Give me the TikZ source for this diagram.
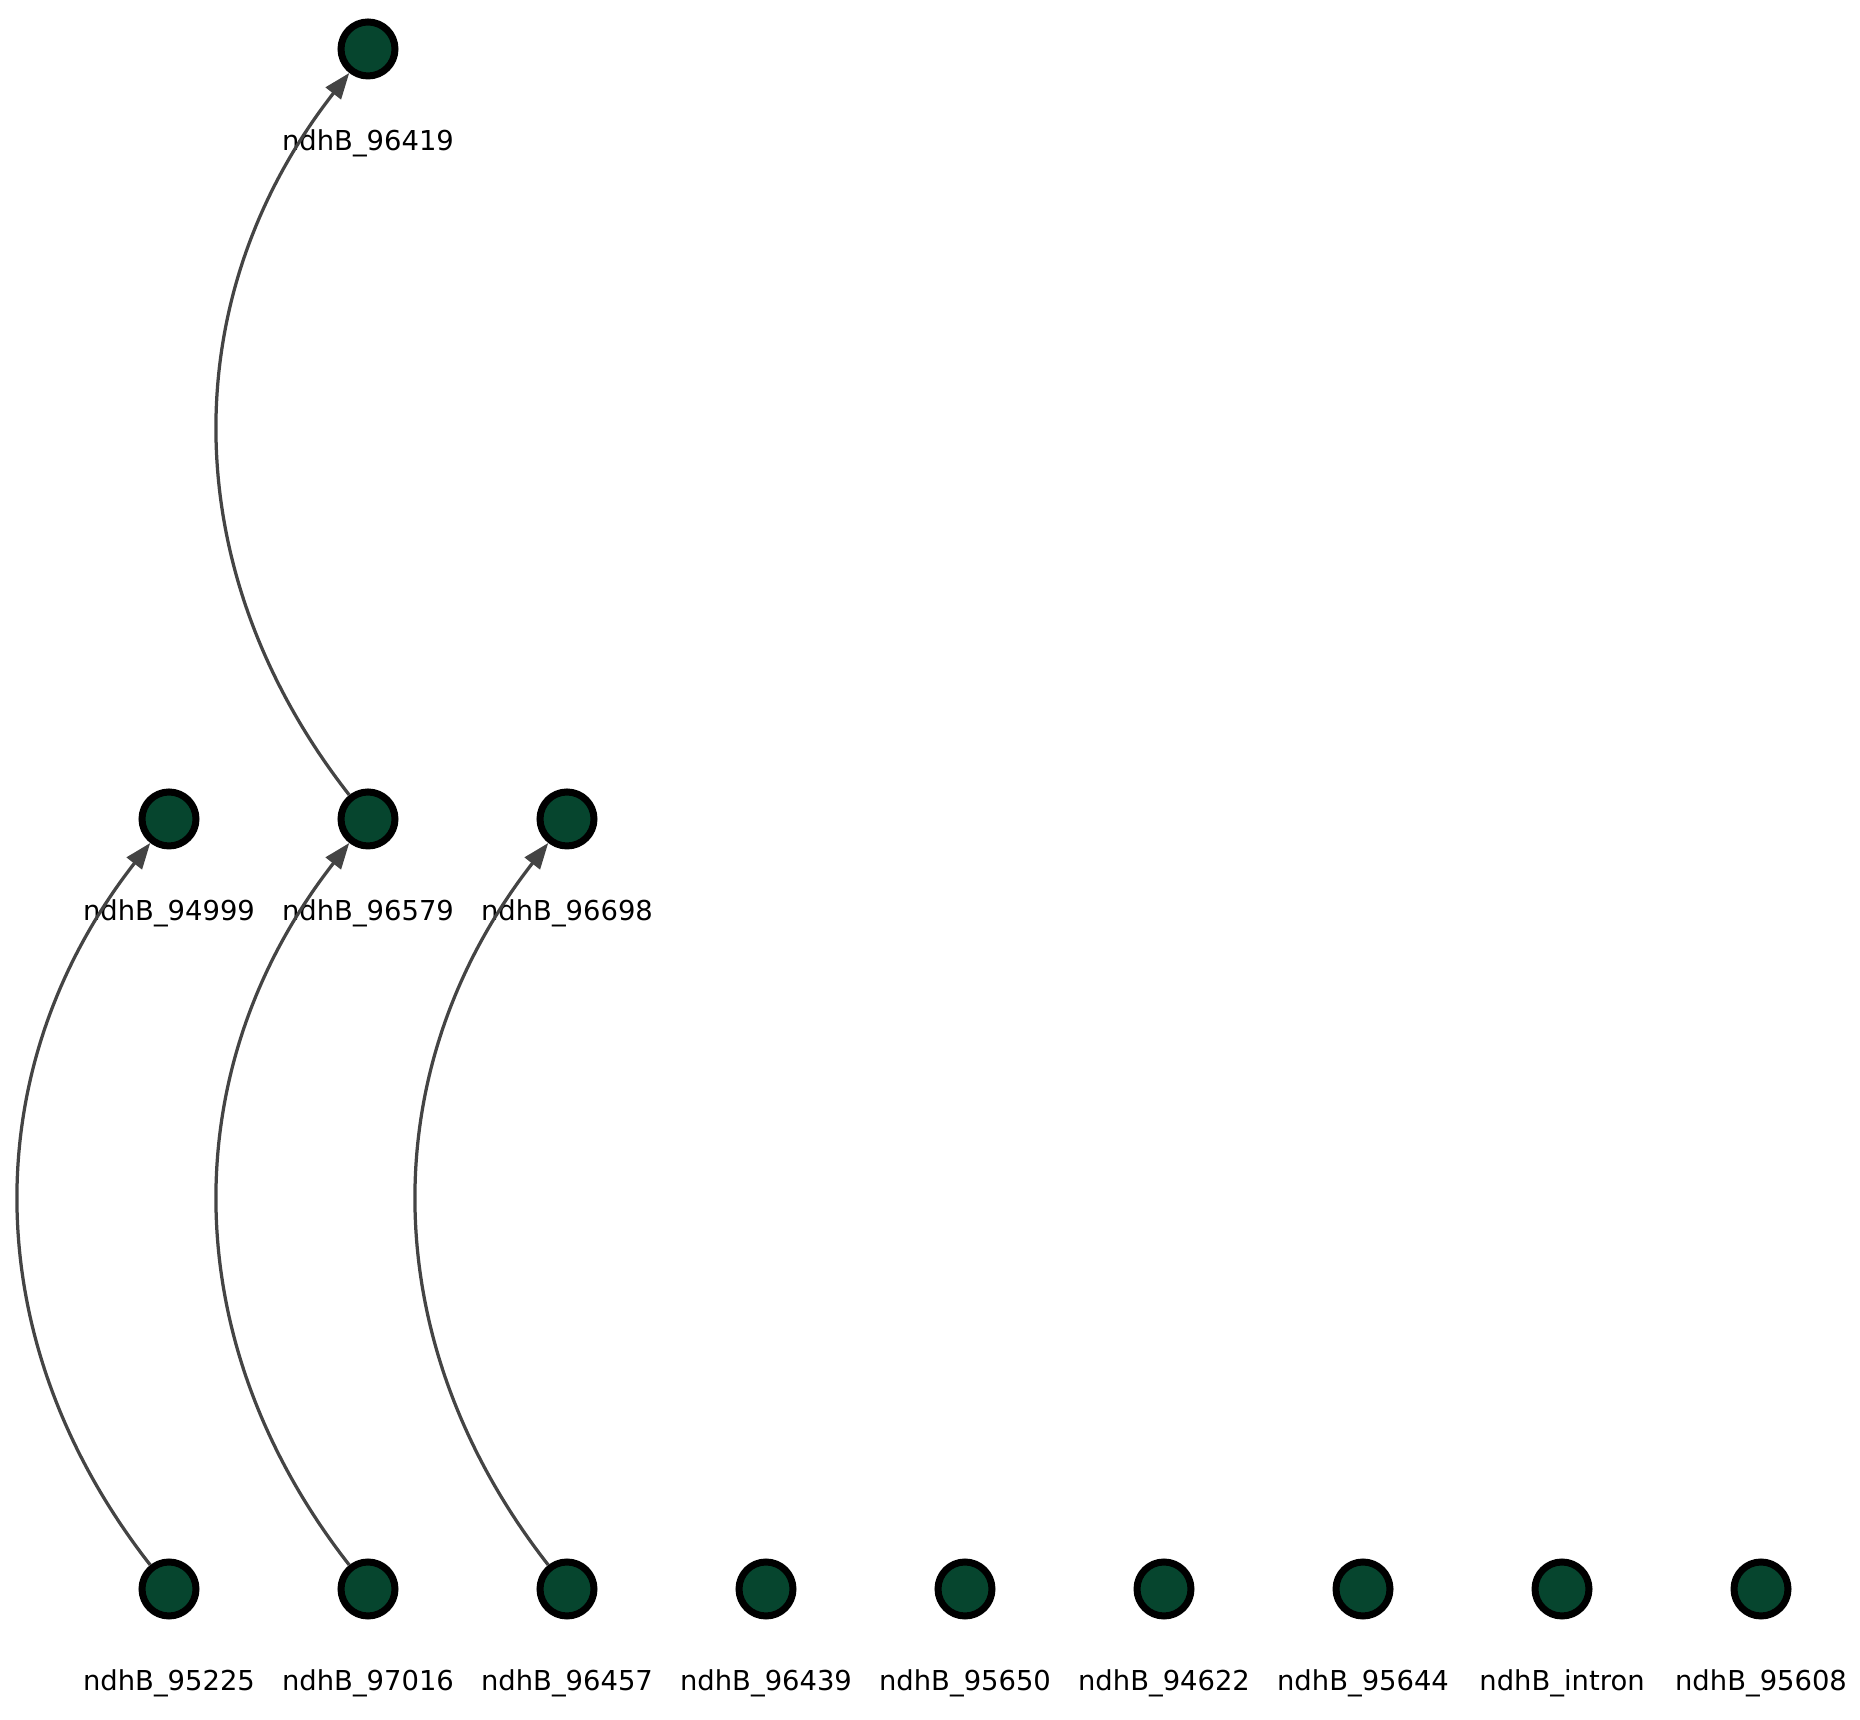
\documentclass[tikz,border=0pt]{standalone}
\usepackage{fontspec}
\setmainfont{DejaVu Sans}
\usetikzlibrary{arrows.meta}
\definecolor{genegreen}{RGB}{6,69,46}
\definecolor{edgegray}{RGB}{68,68,68}

\begin{document}
\begin{tikzpicture}[x=0.02cm, y=0.02cm]
    \tikzstyle{gene}=[circle, fill=genegreen, draw=black, line width=0.14cm, minimum size=1.08cm, inner sep=0pt]
    \tikzstyle{genelabel}=[inner sep=0pt, font=\fontsize{15.6}{18}\selectfont, text=black]
    \tikzstyle{edge}=[edgegray, line width=0.065cm, -{Triangle[length=0.52cm, width=0.38cm]}]

    \useasboundingbox (0,0) rectangle (1860,1720);

    % top row
    \node[gene] (n96419) at (368,1671) {};

    % middle row
    \node[gene] (n94999) at (169,901) {};
    \node[gene] (n96579) at (368,901) {};
    \node[gene] (n96698) at (567,901) {};

    % bottom row
    \node[gene] (n95225) at (169,131) {};
    \node[gene] (n97016) at (368,131) {};
    \node[gene] (n96457) at (567,131) {};
    \node[gene] (n96439) at (766,131) {};
    \node[gene] (n95650) at (965,131) {};
    \node[gene] (n94622) at (1164,131) {};
    \node[gene] (n95644) at (1363,131) {};
    \node[gene] (nintron) at (1562,131) {};
    \node[gene] (n95608) at (1761,131) {};

    % labels
    \node[genelabel] (t96419) at (368,1577) {ndhB\_96419};
    \node[genelabel] (t94999) at (169,807) {ndhB\_94999};
    \node[genelabel] (t96579) at (368,807) {ndhB\_96579};
    \node[genelabel] (t96698) at (567,807) {ndhB\_96698};
    \node[genelabel] (t95225) at (169,37) {ndhB\_95225};
    \node[genelabel] (t97016) at (368,37) {ndhB\_97016};
    \node[genelabel] (t96457) at (567,37) {ndhB\_96457};
    \node[genelabel] (t96439) at (766,37) {ndhB\_96439};
    \node[genelabel] (t95650) at (965,37) {ndhB\_95650};
    \node[genelabel] (t94622) at (1164,37) {ndhB\_94622};
    \node[genelabel] (t95644) at (1363,37) {ndhB\_95644};
    \node[genelabel] (tintron) at (1562,37) {ndhB\_intron};
    \node[genelabel] (t95608) at (1761,37) {ndhB\_95608};

    \draw[edge] (n95225) to[bend left=38, looseness=1.01] (n94999);
    \draw[edge] (n97016) to[bend left=38, looseness=1.01] (n96579);
    \draw[edge] (n96457) to[bend left=38, looseness=1.01] (n96698);
    \draw[edge] (n96579) to[bend left=38, looseness=1.01] (n96419);
\end{tikzpicture}
\end{document}
